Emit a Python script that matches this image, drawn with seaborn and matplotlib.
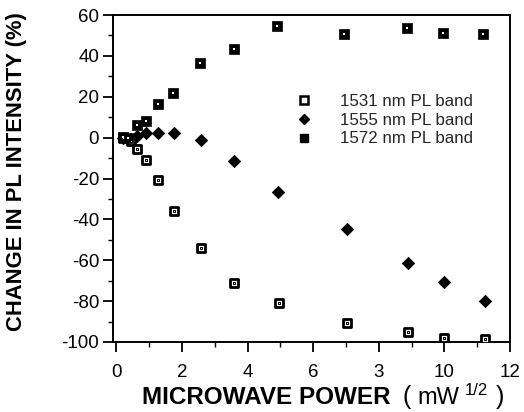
import numpy as np
import pandas as pd
import matplotlib
matplotlib.use("Agg")
import matplotlib.pyplot as plt
import seaborn as sns
from matplotlib.ticker import MultipleLocator
from matplotlib.lines import Line2D

sns.set_theme(style="ticks")
plt.rcParams['font.family'] = ['Liberation Sans', 'DejaVu Sans']
plt.rcParams['axes.unicode_minus'] = False

x_1531 = [0.2, 0.46, 0.64, 0.9, 1.27, 1.75, 2.58, 3.6, 4.96, 7.02, 8.9, 10.0, 11.25]
y_1531 = [0.0, -1.5, -5.7, -11, -20.5, -36, -54, -71, -81, -90.6, -95, -98.2, -98.7]

x_1555 = [0.2, 0.64, 0.9, 1.27, 1.75, 2.58, 3.6, 4.93, 7.02, 8.9, 10.0, 11.25]
y_1555 = [0.0, 1.0, 2.4, 2.4, 2.4, -1.3, -11.6, -26.6, -44.5, -61.5, -70.7, -79.7]

x_1572 = [0.2, 0.35, 0.64, 0.9, 1.27, 1.73, 2.56, 3.6, 4.9, 6.94, 8.87, 9.95, 11.18]
y_1572 = [0.5, 0.0, 6.2, 8.3, 16.5, 22, 36.7, 43.3, 54.4, 50.8, 53.6, 51.4, 50.8]

series_names = ["1531 nm PL band", "1555 nm PL band", "1572 nm PL band"]
x_ticks = [0, 2, 4, 6, 8, 10, 12]
x_tick_labels = ["0", "2", "4", "6", "3", "10", "12"]
y_ticks = [-100, -80, -60, -40, -20, 0, 20, 40, 60]

df = pd.concat([
    pd.DataFrame({"x": x_1531, "y": y_1531, "band": series_names[0]}),
    pd.DataFrame({"x": x_1555, "y": y_1555, "band": series_names[1]}),
    pd.DataFrame({"x": x_1572, "y": y_1572, "band": series_names[2]}),
], ignore_index=True)

W, H = 524, 412
fig = plt.figure(figsize=(W / 100, H / 100), dpi=100)
ax = fig.add_axes([113 / W, 1 - 342 / H, (510 - 113) / W, (342 - 15) / H])

d1 = df[df.band == series_names[0]]
d2 = df[df.band == series_names[1]]
d3 = df[df.band == series_names[2]]

sns.scatterplot(data=d1, x="x", y="y", marker="s", s=34, color="white",
                edgecolor="black", linewidth=2.0, ax=ax, zorder=3)
sns.scatterplot(data=d1, x="x", y="y", marker="s", s=2.5, color="white",
                edgecolor="black", linewidth=0.7, ax=ax, zorder=4)
sns.scatterplot(data=d2, x="x", y="y", marker="D", s=40, color="black",
                edgecolor="black", linewidth=0.5, ax=ax, zorder=3)
sns.scatterplot(data=d3, x="x", y="y", marker="s", s=50, color="black",
                edgecolor="black", linewidth=0.5, ax=ax, zorder=3)
sns.scatterplot(data=d3, x="x", y="y", marker="s", s=2, color="white",
                edgecolor="white", linewidth=0, ax=ax, zorder=4)

# legend
h1 = Line2D([], [], marker="s", ls="none", markersize=5.5, markerfacecolor="white",
            markeredgecolor="black", markeredgewidth=1.8)
h2 = Line2D([], [], marker="D", ls="none", markersize=5, markerfacecolor="black",
            markeredgecolor="black")
h3 = Line2D([], [], marker="s", ls="none", markersize=5.5, markerfacecolor="black",
            markeredgecolor="black")
ax.legend([h1, h2, h3], series_names, loc="upper left",
          bbox_to_anchor=((296 - 113) / 397, 1 - (94 - 15) / 327), frameon=False,
          fontsize=12.2, handletextpad=1.6, labelspacing=0.22, handlelength=1.0,
          borderpad=0, borderaxespad=0)

ax.set_xlim(-0.1, 12)
ax.set_ylim(-100, 60)
ax.set_xticks(x_ticks)
ax.set_xticklabels(x_tick_labels)
ax.set_yticks(y_ticks)
ax.xaxis.set_minor_locator(MultipleLocator(1))
ax.yaxis.set_minor_locator(MultipleLocator(10))
ax.tick_params(which="major", direction="out", length=7, width=1.3,
               labelsize=13.5, color="black", labelcolor="black")
ax.tick_params(axis="x", which="major", pad=9)
ax.tick_params(axis="y", which="major", pad=3)
ax.tick_params(which="minor", direction="out", length=3.5, width=1.0, color="black")
for sp in ax.spines.values():
    sp.set_color("black")
    sp.set_linewidth(1.4)

ax.set_ylabel("CHANGE IN PL INTENSITY (%)", fontsize=15.8, fontweight="bold",
              color="black")
ax.yaxis.set_label_coords((27 - 113) / 397, 0.52)
ax.set_xlabel("")

base = 1 - 404 / H
fig.text(142 / W, base, "MICROWAVE POWER", fontsize=17.5, fontweight="bold",
         ha="left", va="baseline", color="black")
fig.text(403 / W, base, "(", fontsize=18, ha="left", va="baseline", color="black")
fig.text(417 / W, base, "mW", fontsize=17, ha="left", va="baseline", color="black")
fig.text(465 / W, 1 - 395 / H, "1/2", fontsize=12, ha="left", va="baseline",
         color="black")
fig.text(496 / W, base, ")", fontsize=18, ha="left", va="baseline", color="black")

fig.savefig("out.png", dpi=100)
